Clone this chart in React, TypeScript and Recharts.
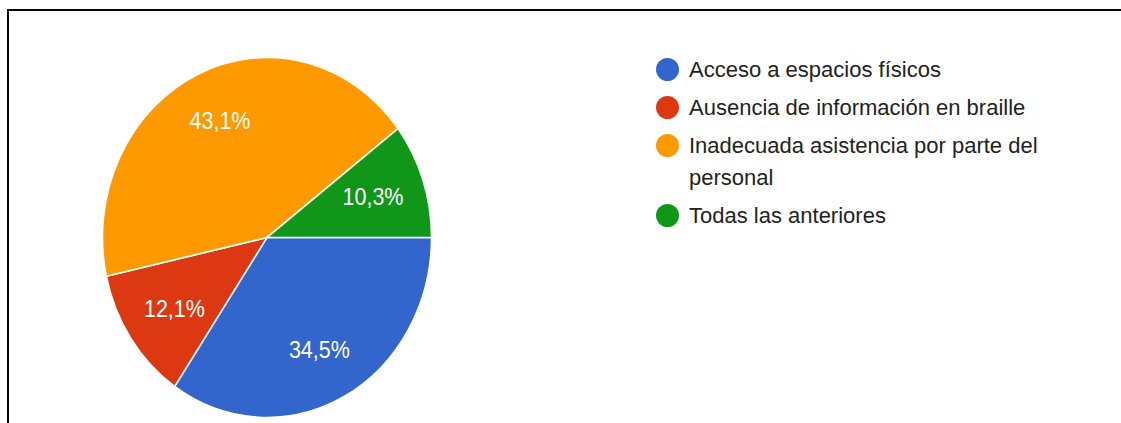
import { PieChart, Pie, Cell } from "recharts";

const categories = [
  "Acceso a espacios físicos",
  "Ausencia de información en braille",
  "Inadecuada asistencia por parte del personal",
  "Todas las anteriores",
];
// respuestas (58 en total) -> 34,5% / 12,1% / 43,1% / 10,3%
const responses = [20, 7, 25, 6];
const colors = ["#3366cc", "#dc3912", "#ff9900", "#109618"];

const data = categories.map((name, i) => ({ name, value: responses[i] }));

const FONT = "Arial, 'Liberation Sans', sans-serif";
const RAD = Math.PI / 180;

// the reference pie is a bit taller than wide
const RX = 164.5;
const RY = 180;
const CX = 267;
const CY = 237.5;

function SliceLabel({ cx, cy, midAngle, outerRadius, percent }: any) {
  // labels sit a little closer to the centre sideways than up/down
  const x = cx + outerRadius * 0.68 * Math.cos(-midAngle * RAD);
  const y = cy + outerRadius * 0.71 * Math.sin(-midAngle * RAD);
  return (
    <text
      x={x}
      y={y}
      fill="#fff"
      textAnchor="middle"
      dominantBaseline="central"
      fontSize={21.5}
      fontFamily={FONT}
    >
      {(percent * 100).toFixed(1).replace(".", ",")}%
    </text>
  );
}

export default function App() {
  return (
    <div
      style={{
        position: "absolute",
        left: 0,
        top: 0,
        width: 1121,
        height: 423,
        background: "#fff",
        overflow: "hidden",
      }}
    >
      <div
        style={{
          position: "absolute",
          left: 7,
          top: 9,
          width: 1200,
          height: 500,
          borderTop: "2px solid #000",
          borderLeft: "2px solid #000",
        }}
      />
      <div
        style={{
          position: "absolute",
          left: 0,
          top: 0,
          transform: `scaleY(${RY / RX})`,
          transformOrigin: `${CX}px ${CY}px`,
        }}
      >
        <PieChart width={560} height={423} margin={{ top: 0, right: 0, bottom: 0, left: 0 }}>
          <Pie
            data={data}
            dataKey="value"
            nameKey="name"
            cx={CX}
            cy={CY}
            outerRadius={RX}
            startAngle={0}
            endAngle={-360}
            stroke="#fff"
            strokeWidth={1.5}
            labelLine={false}
            label={SliceLabel}
            isAnimationActive={false}
          >
            {data.map((d, i) => (
              <Cell key={d.name} fill={colors[i]} />
            ))}
          </Pie>
        </PieChart>
      </div>
      <div
        style={{
          position: "absolute",
          left: 656,
          top: 54,
          width: 400,
          fontFamily: FONT,
          fontSize: 22,
          color: "#222",
        }}
      >
        {data.map((d, i) => (
          <div key={d.name} style={{ display: "flex", alignItems: "flex-start", marginBottom: 6 }}>
            <span
              style={{
                flex: "none",
                width: 23,
                height: 23,
                borderRadius: "50%",
                background: colors[i],
                marginTop: 4,
                marginRight: 10,
              }}
            />
            <span style={{ width: 360, lineHeight: "32px" }}>{d.name}</span>
          </div>
        ))}
      </div>
    </div>
  );
}
